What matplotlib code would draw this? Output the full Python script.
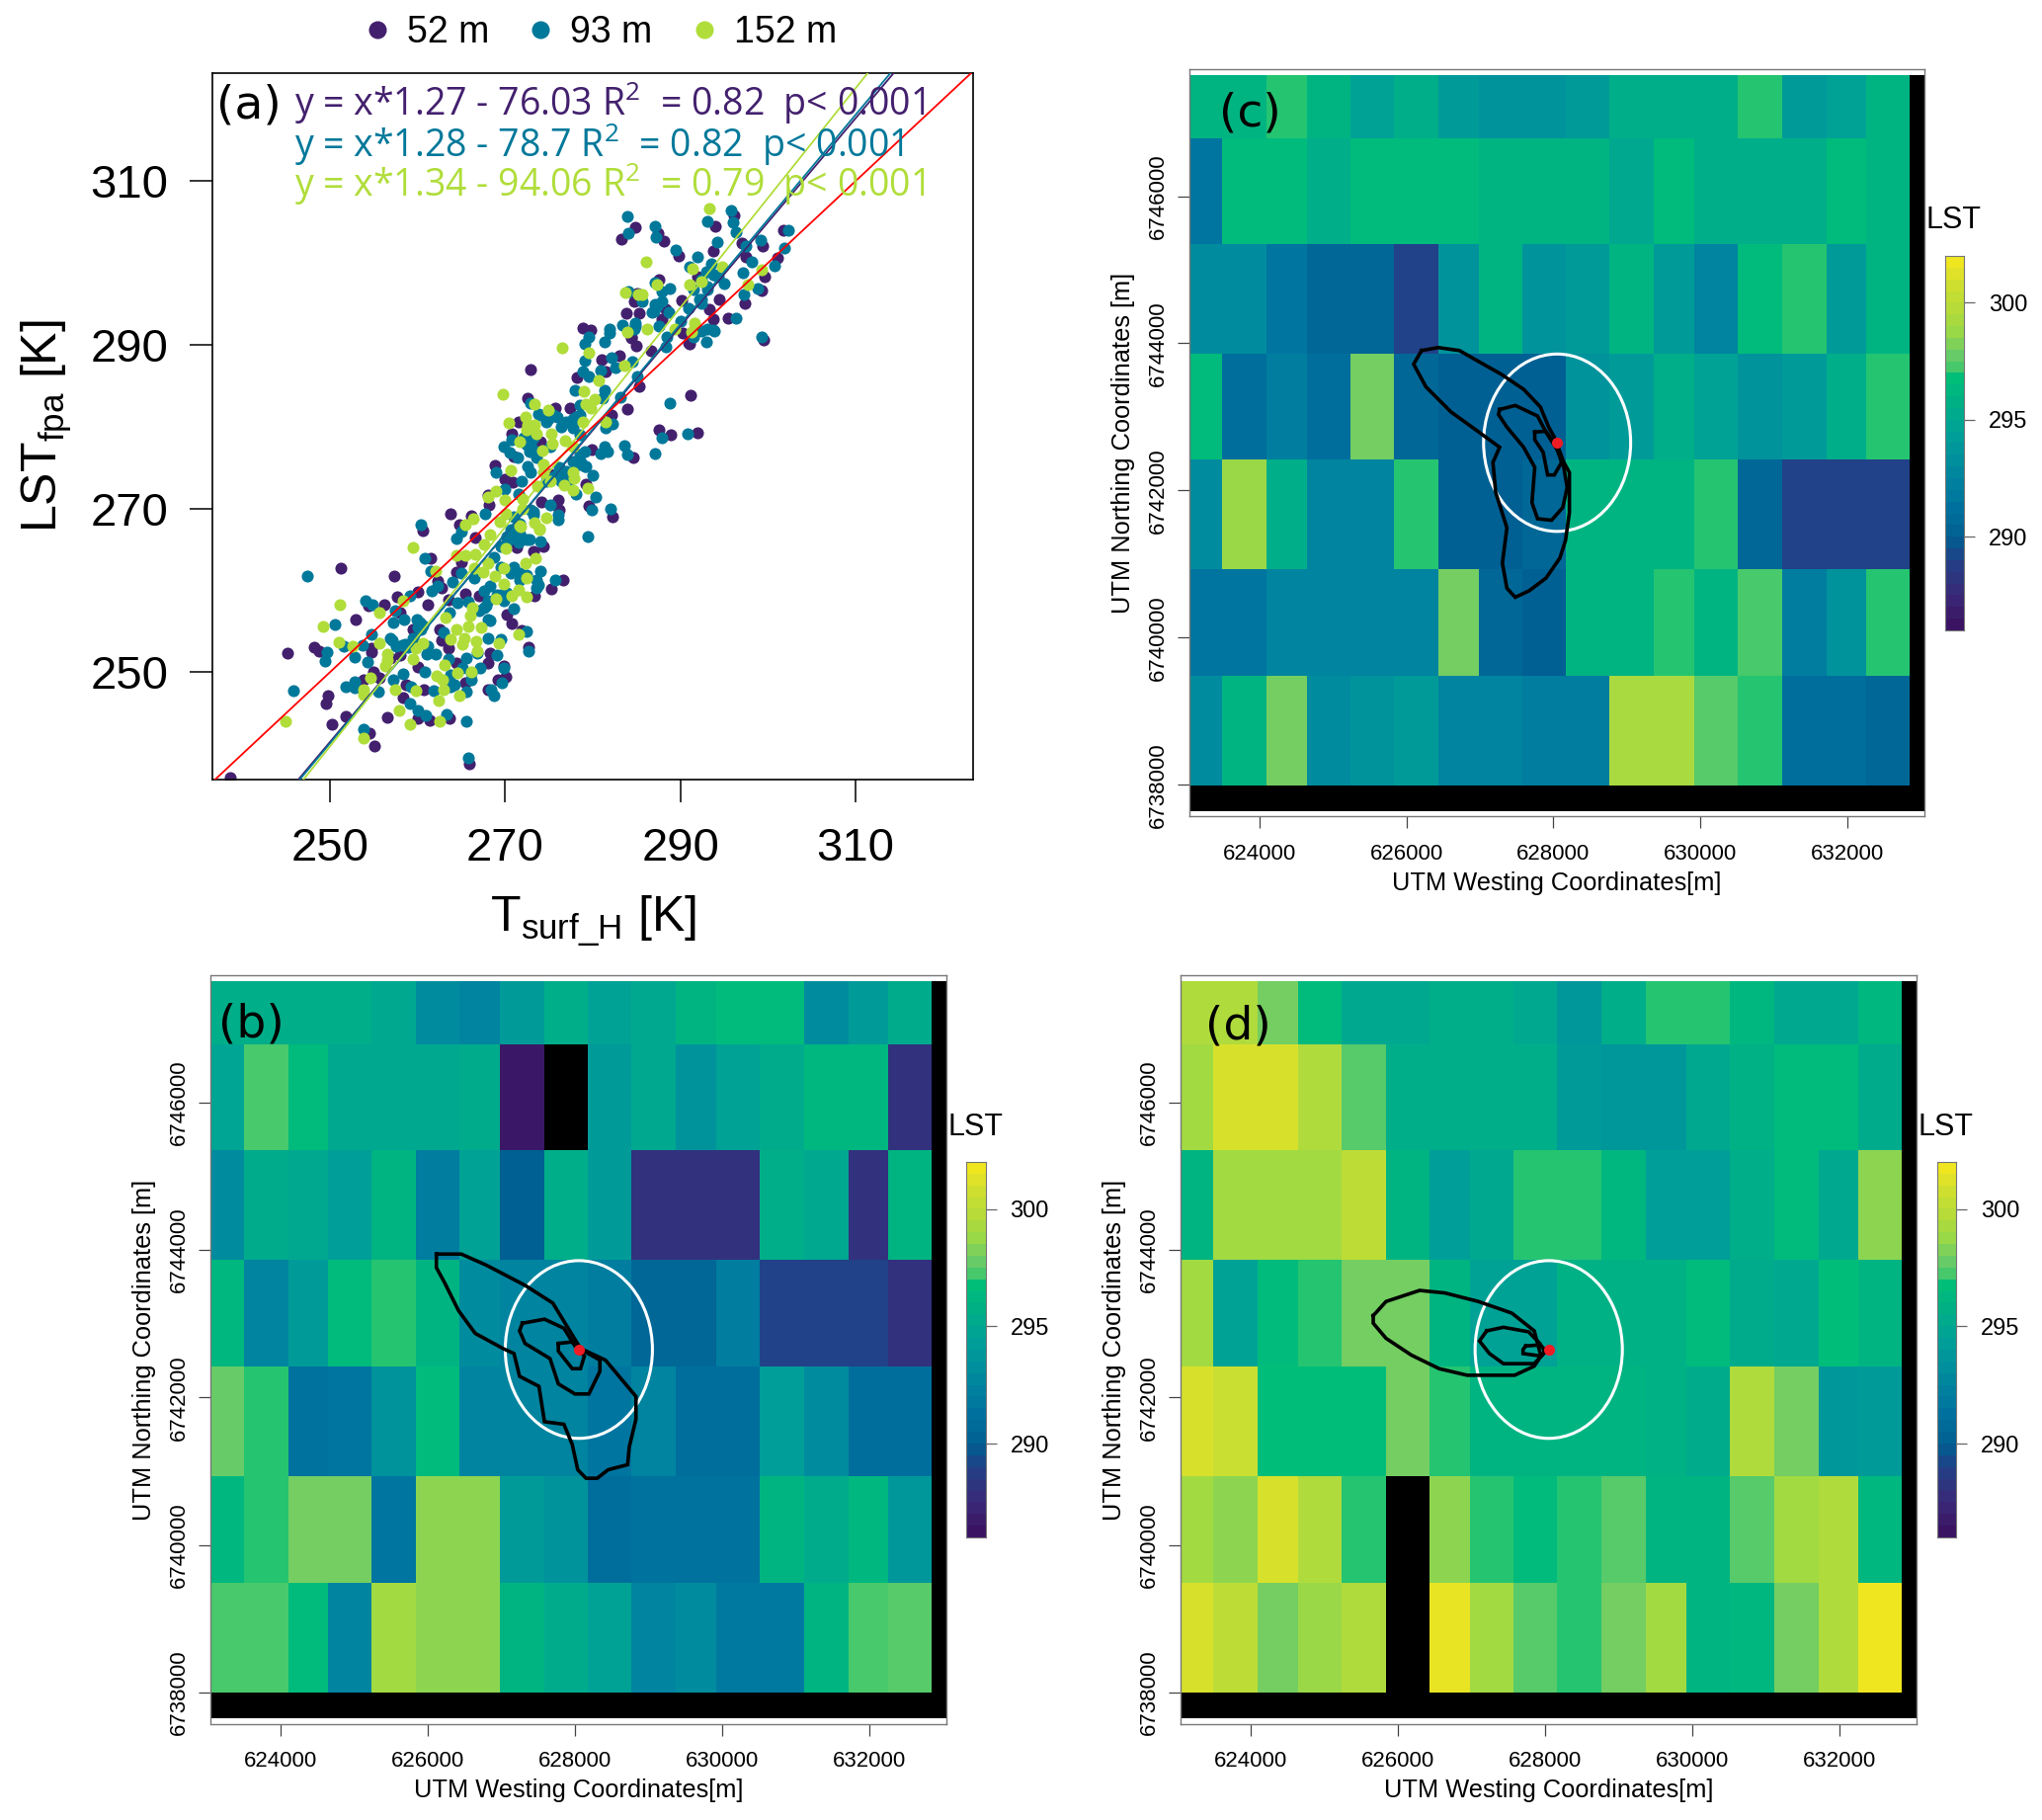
import numpy as np
import matplotlib
matplotlib.use('Agg')
import matplotlib.pyplot as plt
from matplotlib.colors import LinearSegmentedColormap
from matplotlib.lines import Line2D
from matplotlib.patches import Ellipse

plt.rcParams['font.family'] = ['Liberation Sans', 'DejaVu Sans']
plt.rcParams['mathtext.fontset'] = 'custom'
plt.rcParams['mathtext.rm'] = 'Liberation Sans'
plt.rcParams['mathtext.default'] = 'regular'

W, H = 2067, 1842

# panel a, T_surf_H vs LST_fpa
x52 = [245.2,248.2,248.8,251.2,257.3,253.0,256.2,254.4,257.7,260.0,261.2,249.8,249.6,251.8,250.2,256.5,255.1,254.5,265.9,272.7,
       270.8,276.6,275.3,260.6,261.5,254.7,254.7,258.0,259.5,262.5,262.7,263.5,258.0,256.9,260.1,255.0,253.8,255.7,258.7,258.3,
       260.7,260.1,261.4,263.6,265.5,264.4,268.0,268.3,269.8,270.1,269.2,268.1,271.9,270.2,273.4,265.5,267.0,263.5,262.7,262.3,
       264.4,265.0,266.6,271.3,273.2,274.4,238.6,
       263.8,264.8,266.1,268.2,268.0,268.8,270.0,270.9,272.9,272.6,271.5,270.7,271.0,274.0,275.7,277.4,278.2,281.0,283.0,281.5,
       285.0,284.4,286.6,285.3,283.9,282.1,279.9,278.5,284.6,287.5,288.9,291.9,291.2,282.3,279.6,276.2,276.0,274.1,279.2,275.1,291.0,
       284.8,283.3,288.1,287.4,289.8,294.0,296.1,293.7,299.4,297.0,297.5,301.8,301.1,287.5,285.1,284.7,283.8,285.3,290.2,292.0,
       294.4,293.3,293.7,295.4,297.4,299.3,299.6,290.9,299.5,279.8,278.9,287.9,290.3,284.4,288.3]
y52 = [252.4,253.1,252.6,262.7,261.8,256.5,258.2,258.1,259.2,259.8,258.2,247.1,246.2,244.6,243.7,244.5,241.0,242.6,238.8,253.1,
       256.0,261.3,260.2,267.3,263.9,252.9,252.5,257.3,255.3,255.3,253.9,252.9,252.1,251.7,250.6,250.1,249.1,249.3,248.5,246.9,
       247.9,244.4,244.2,244.4,248.7,251.1,251.1,252.4,250.8,249.5,249.1,247.9,255.1,257.1,259.4,259.6,259.3,258.9,260.3,261.1,
       262.3,263.5,266.5,265.3,264.8,265.4,237.1,
       269.4,268.0,269.1,270.4,271.7,275.3,273.6,273.2,287.0,283.5,280.6,279.1,276.4,278.2,282.3,282.3,286.0,288.2,288.7,286.7,
       289.9,290.9,289.3,284.9,282.2,281.4,277.2,275.8,276.2,279.6,279.0,279.2,283.8,269.0,270.3,269.8,271.0,270.8,273.0,274.2,290.1,
       304.3,302.9,302.7,303.6,300.9,304.5,305.8,301.4,302.0,302.4,300.7,304.0,300.6,298.0,296.3,295.3,293.9,293.9,295.4,298.3,
       295.5,294.3,293.1,293.3,295.1,296.6,298.3,290.2,290.6,291.8,292.1,293.1,291.4,290.8,294.3]

x93 = [247.4,254.1,254.9,259.1,261.6,250.6,257.4,257.2,258.5,249.7,249.4,251.6,252.8,253.7,254.8,254.3,245.8,251.8,252.8,252.8,
       255.5,257.2,258.4,257.1,258.2,259.5,260.3,260.1,260.8,260.4,261.5,262.3,264.0,265.0,266.5,264.4,265.0,263.0,263.6,264.6,
       265.8,267.6,268.3,268.0,268.1,269.5,272.4,272.7,269.1,266.8,265.6,263.5,262.1,261.1,261.2,260.8,267.2,266.1,269.8,269.6,
       268.4,268.7,265.6,263.8,261.8,259.1,259.3,260.0,260.9,263.3,265.6,253.9,265.8,267.6,269.5,271.0,273.8,274.0,275.7,271.7,
       270.6,269.5,268.3,271.0,270.2,272.5,274.0,279.4,268.7,
       267.7,268.9,269.9,270.7,271.4,270.5,272.6,272.9,271.9,270.0,271.6,272.9,273.8,275.9,274.7,276.4,278.1,277.7,272.9,273.6,
       275.1,272.1,278.0,279.1,279.1,279.6,278.9,279.6,280.9,281.4,281.1,282.1,282.6,284.5,281.4,285.1,283.2,288.3,293.0,291.5,
       288.8,287.9,290.8,287.1,283.6,284.0,281.7,281.3,280.9,282.2,281.5,279.1,278.7,279.1,280.0,276.4,277.2,278.1,275.9,274.7,
       280.3,279.9,282.0,275.1,276.05,276.05,273.2,271.0,278.5,
       284.0,284.1,287.1,287.2,289.5,293.1,295.8,296.0,296.3,294.2,292.0,302.3,301.9,300.7,299.2,298.2,297.5,297.1,297.3,298.8,
       293.5,293.9,293.1,295.0,291.1,291.5,292.2,290.9,292.4,288.8,287.9,287.1,284.1,285.6,287.9,287.1,286.8,288.7,284.9,284.7,
       283.4,281.9,287.5,290.0,288.4,296.3,293.7,292.4,299.3,
       # the blobs where teal dots pile up
       259.9,260.6,260.4,256.9,257.6,258.6,258.9,270.2,269.8,269.1,271.7,271.0,272.5,267.8,267.0,268.0,273.6,273.6,
       270.2,269.5,271.7,272.8,271.5,263.8,263.4,264.2,265.1,266.1,
       277.7,277.0,278.5,278.5,272.8,273.2,272.5,273.6,274.9,275.5,274.0,278.5,279.2,278.5,277.7,277.0,276.2,275.5,
       270.6,271.3,272.9,273.2,271.7,
       293.7,294.3,293.0,292.4,293.9,293.1,284.9,281.9,287.0,287.3,292.4,293.1]
y93 = [261.7,258.8,258.3,259.4,259.9,255.8,257.5,256.1,256.4,252.5,251.4,253.2,251.9,253.3,254.6,251.2,247.8,248.2,248.8,248.1,
       247.6,249.1,249.8,253.9,253.3,254.1,256.1,255.5,263.9,268.0,262.4,260.6,261.0,262.1,261.5,266.4,267.2,254.9,257.3,258.5,
       258.6,257.9,256.3,256.4,254.2,254.0,255.0,252.6,252.1,252.3,251.7,251.6,252.2,252.2,253.2,250.1,250.5,249.1,250.5,248.7,
       247.9,247.2,247.6,248.3,247.7,246.2,248.3,245.3,244.8,244.9,244.0,243.0,239.6,259.9,259.5,257.8,260.7,262.4,261.3,262.1,
       262.1,262.9,260.5,266.6,265.8,266.2,266.0,266.6,264.1,
       269.4,274.4,277.6,278.4,276.2,276.8,275.2,274.4,273.3,272.4,271.8,282.9,281.6,281.2,280.6,280.0,281.2,279.8,277.8,277.0,
       277.6,278.6,284.5,288.1,290.1,290.9,286.7,286.1,286.9,284.5,283.5,288.4,287.2,288.0,290.3,286.1,283.6,289.8,290.3,290.9,
       282.9,278.6,279.1,276.7,277.7,276.6,277.0,277.6,276.7,280.3,279.8,277.0,275.6,275.2,274.1,273.4,273.4,271.8,274.2,273.4,
       271.4,269.8,270.0,270.4,269.2,268.6,269.6,269.0,279.0,
       305.7,303.6,304.5,303.2,301.6,305.1,306.4,305.0,303.8,302.6,300.7,304.0,301.8,299.7,302.8,300.1,302.0,298.8,296.1,296.9,
       299.9,298.5,297.1,297.5,299.5,296.7,295.5,294.5,295.1,296.9,296.5,297.6,296.5,295.3,295.3,294.9,294.0,294.0,292.7,291.9,
       292.4,291.9,292.3,292.9,290.9,293.2,291.8,291.7,290.9,
       256.5,255.7,255.3,254.1,253.2,253.4,253.1,259.7,258.7,259.5,261.3,262.9,261.9,258.1,257.5,258.7,260.3,261.3,
       266.6,265.4,267.0,266.2,265.8,249.7,248.9,248.5,250.5,249.9,
       281.0,280.6,281.4,282.6,277.0,278.6,277.8,276.2,281.0,281.4,281.4,276.6,275.2,275.4,275.8,274.6,275.0,273.8,
       267.4,267.0,269.8,269.2,268.2,
       298.5,298.3,298.9,297.9,291.7,291.9,292.3,291.5,294.1,294.7,295.5,296.7]

x152 = [259.5,262.1,251.1,255.6,249.2,251.0,252.6,255.7,256.5,256.5,256.3,259.5,258.4,254.6,253.9,253.9,244.9,253.8,257.9,259.2,
        262.5,262.4,264.8,259.8,257.5,263.0,262.2,262.9,264.6,266.1,263.1,266.8,265.1,265.3,263.8,266.7,264.4,265.8,267.3,269.3,
        271.5,260.6,259.8,263.2,266.0,266.2,268.9,270.7,271.5,272.5,269.8,272.5,268.8,269.8,272.3,273.5,267.5,268.1,266.5,265.5,
        266.6,264.4,267.6,268.3,270.1,271.8,273.9,
        269.7,276.5,279.6,283.6,280.7,279.0,280.2,279.2,279.8,273.4,274.9,272.3,270.4,272.6,273.4,272.4,273.6,275.3,278.9,281.5,
        271.7,276.8,275.4,277.8,274.2,274.4,270.6,274.4,277.8,277.9,276.7,277.7,279.4,275.1,273.7,269.0,268.1,270.0,272.0,272.0,
        270.1,266.4,265.5,269.4,271.7,273.4,273.9,274.7,
        293.3,286.1,283.7,285.2,285.6,287.3,291.4,294.8,291.1,292.4,299.3,297.7,291.6,286.2,283.9,289.4,291.3]
y152 = [265.3,262.4,258.2,257.3,255.6,253.7,253.2,253.6,252.2,251.5,250.8,251.6,258.8,249.3,247.9,247.3,244.0,242.0,245.4,243.6,
        244.0,246.5,247.2,247.7,247.9,247.9,249.6,249.1,249.9,250.0,250.9,252.6,253.4,254.1,254.0,253.8,255.2,255.6,255.5,253.5,
        254.6,253.6,253.0,256.7,256.9,257.9,259.0,259.3,260.1,259.2,260.8,261.5,261.8,262.7,263.3,263.9,262.2,263.3,262.7,264.3,
        264.4,264.3,265.6,266.8,265.1,267.8,267.5,
        283.9,289.6,289.0,287.4,285.6,284.3,283.3,282.7,282.3,282.8,282.0,281.2,280.4,280.2,280.2,279.6,279.1,279.1,280.6,280.6,
        278.2,278.3,277.9,277.6,277.1,275.4,274.7,274.4,274.4,273.7,272.8,272.3,272.5,273.4,272.7,272.1,271.4,271.1,271.2,270.0,
        269.3,268.7,268.0,268.4,267.9,268.3,267.4,268.9,
        306.7,300.1,296.4,296.1,296.1,297.3,299.3,299.5,297.4,297.7,299.2,297.3,292.7,291.9,291.6,291.9,291.6]

heights = ['52 m', '93 m', '152 m']
slopes = [1.27, 1.28, 1.34]
intercepts = [-76.03, -78.7, -94.06]
eq_text = ['y = x*1.27 - 76.03 R$^2$  = 0.82  p< 0.001',
           'y = x*1.28 - 78.7 R$^2$  = 0.82  p< 0.001',
           'y = x*1.34 - 94.06 R$^2$  = 0.79  p< 0.001']
col52, col93, col152 = '#43206e', '#00789a', '#b0dd3a'

# LST raster, same cell grid for the three maps
x_edges = [623050,623499,624099,624645,625237,625837,626429,626983,627575,628167,628766,629366,629913,630512,631112,631712,632251,632850,633045]
y_edges = [6747641,6746787,6745351,6743860,6742417,6740927,6739484,6737993,6737644]
nan = np.nan

lst_b = [
    [295.5,295.5,295.5,295.5,295.0,293.0,292.5,294.0,295.5,294.5,295.0,296.0,296.7,296.7,293.0,294.0,295.3],
    [294.8,297.3,296.5,295.0,295.0,295.0,295.3,286.5,nan,294.0,295.0,293.5,294.5,295.3,296.3,296.3,288.0],
    [293.0,295.3,295.0,294.3,296.0,292.0,294.5,290.0,295.7,294.0,288.0,288.0,288.0,295.7,295.0,288.0,296.0],
    [296.3,292.5,294.0,296.5,297.0,296.0,293.0,292.5,292.5,292.0,290.5,290.5,292.0,289.0,289.0,289.0,288.0],
    [297.8,297.0,291.3,291.5,293.5,296.5,292.5,292.5,292.5,291.5,292.5,291.0,291.0,294.3,293.0,291.0,291.0],
    [296.3,297.2,298.0,298.0,291.5,298.7,298.7,294.0,293.5,291.0,291.3,291.3,291.3,296.0,295.3,296.3,293.8],
    [297.3,297.3,296.5,292.5,299.2,298.7,298.7,296.0,295.3,294.5,292.5,293.0,291.8,291.8,296.0,297.3,297.6]]
lst_c = [
    [296.0,296.0,297.0,296.0,294.5,295.5,294.0,293.5,293.5,294.0,295.5,295.5,295.5,297.0,294.0,294.5,296.0],
    [291.5,296.5,296.5,295.5,296.5,296.5,296.5,296.0,296.0,296.0,295.0,296.5,295.5,295.5,295.5,296.5,296.0],
    [293.0,293.0,291.5,290.5,290.5,289.0,293.5,296.0,293.5,294.0,296.0,294.0,292.5,296.5,297.0,294.0,296.0],
    [296.5,291.0,292.0,291.0,298.0,290.5,290.0,290.0,290.0,293.5,294.0,295.5,294.5,293.5,294.0,295.5,297.0],
    [293.0,298.8,295.5,292.5,292.5,297.0,290.0,290.0,290.5,296.0,296.0,296.0,297.0,290.5,289.0,289.0,289.0],
    [291.5,291.5,292.5,292.5,292.5,292.5,298.0,290.5,290.2,296.0,296.0,297.2,296.0,297.3,292.0,293.5,297.0],
    [293.0,296.0,298.0,293.0,293.5,294.0,292.5,292.5,292.0,292.0,299.3,299.3,297.5,297.0,291.0,291.0,290.5]]
lst_d = [
    [299.5,299.5,298.0,296.5,295.0,295.0,295.5,295.5,295.0,293.8,295.5,297.0,297.0,296.3,295.0,295.0,296.3],
    [299.0,301.0,301.0,299.5,297.5,295.5,295.5,295.5,295.5,294.0,293.8,293.8,295.0,295.8,296.5,296.5,295.3],
    [296.0,299.0,299.0,299.0,300.0,296.0,294.3,295.0,297.2,297.2,296.3,294.3,294.3,295.5,296.5,295.2,298.7],
    [299.0,294.5,296.5,297.2,298.0,298.0,296.0,294.5,294.5,295.8,295.8,295.8,296.5,295.3,295.0,296.8,296.0],
    [301.0,300.5,296.8,296.8,296.8,298.0,297.0,296.0,296.0,296.0,296.0,295.8,295.3,299.7,298.0,293.8,294.0],
    [299.0,298.5,301.0,299.5,297.0,nan,298.5,297.0,296.5,297.0,297.5,296.2,296.2,297.5,299.2,299.7,296.4],
    [301.0,300.0,298.0,298.8,299.7,nan,301.7,299.2,297.5,297.2,298.0,299.0,296.2,296.4,298.2,299.7,301.8]]

# tower position and footprint contours, metres east/north of the tower
tower_x, tower_y = 628050, 6742650
b_outer = [(-1936,1294),(-1597,1294),(-1258,1144),(-731,870),(-354,630),(-166,322),(23,14),(362,-144),(776,-637),(776,-945),
           (685,-1322),(663,-1562),(399,-1630),(249,-1746),(98,-1746),(-15,-1630),(-90,-1288),(-203,-1014),(-467,-979),(-542,-500),
           (-806,-363),(-881,-55),(-1032,14),(-1409,219),(-1635,527),(-1823,904),(-1936,1110),(-1936,1294)]
b_mid = [(-768,356),(-467,411),(-203,288),(-53,48),(286,-144),(286,-295),(136,-603),(-53,-603),(-279,-466),(-392,-123),(-731,82),(-806,253),(-768,356)]
b_inner = [(-279,82),(-90,103),(75,-89),(23,-260),(-90,-260),(-279,-21),(-279,82)]
c_outer = [(-1844,1252),(-1617,1293),(-1328,1252),(-1063,1101),(-759,930),(-455,725),(-228,486),(-114,212),(-38,75),(91,-267),
           (167,-404),(167,-951),(114,-1327),(38,-1566),(-152,-1840),(-380,-2011),(-569,-2100),(-683,-1977),(-744,-1635),(-683,-1156),
           (-835,-677),(-873,-267),(-782,-62),(-1063,144),(-1442,417),(-1784,759),(-1951,1067),(-1844,1252)]
c_mid = [(-782,451),(-569,506),(-266,363),(-152,144),(0,-96),(91,-335),(137,-609),(76,-882),(-76,-1053),(-266,-1033),(-342,-814),(-304,-335),(-455,-62),(-683,212),(-797,383),(-782,451)]
c_inner = [(-304,144),(-152,157),(0,-62),(61,-267),(-38,-438),(-129,-438),(-190,-130),(-304,41),(-304,144)]
d_outer = [(-2383,459),(-2209,651),(-1753,801),(-1412,767),(-956,651),(-501,493),(-197,253),(-106,-89),(-197,-226),(-463,-349),
           (-1108,-349),(-1488,-260),(-1867,-75),(-2209,151),(-2383,356),(-2383,459)]
d_mid = [(-842,253),(-615,301),(-273,240),(-121,82),(-46,-34),(-197,-192),(-615,-192),(-805,-55),(-941,116),(-842,253)]
d_inner = [(-311,48),(-121,62),(-46,-7),(-106,-89),(-349,-55),(-349,0),(-311,48)]

cb_ticks = [290, 295, 300]
lst_stops = [(286,'#3a0f5f'),(287.5,'#3b2a78'),(289,'#233f87'),(290,'#005f92'),(291.5,'#0074a0'),(293,'#008a9e'),(294.5,'#00a098'),
             (295,'#00a692'),(296,'#00b284'),(297,'#00bf78'),(297.3,'#40c86c'),(298,'#6bcc68'),(299,'#9cd945'),(300,'#b8dc38'),(301,'#cfe030'),(302,'#f0e620')]
cmap = LinearSegmentedColormap.from_list('lst', [((v-286)/16., c) for v, c in lst_stops], N=64)
cmap.set_bad('black')


def axes_px(fig, left, right, top, bottom):
    return fig.add_axes([left/W, 1-bottom/H, (right-left)/W, (bottom-top)/H])


def draw_map(fig, box, cbox, lst, contours, letter, letter_pos, lst_pos):
    ax = axes_px(fig, *box)
    vals = np.full((8, 18), nan)
    vals[:7, :17] = np.array(lst)
    ax.pcolormesh(x_edges, y_edges, np.ma.masked_invalid(vals), cmap=cmap, vmin=286, vmax=302, shading='flat', rasterized=True)
    ax.set_xlim(623050, 633045)
    ax.set_ylim(6737570, 6747725)
    for c in contours:
        ax.plot([tower_x+p[0] for p in c], [tower_y+p[1] for p in c], color='black', lw=2.6, solid_joinstyle='miter')
    ax.add_patch(Ellipse((tower_x, tower_y), 2000, 2410, fc='none', ec='white', lw=2.2))
    ax.plot([tower_x], [tower_y], 'o', color='#ee1c25', ms=8, mew=0)
    ax.set_xticks([624000, 626000, 628000, 630000, 632000])
    ax.set_yticks([6738000, 6740000, 6742000, 6744000, 6746000])
    ax.ticklabel_format(useOffset=False, style='plain')
    ax.tick_params(length=8.5, width=0.9, color='#444444', labelsize=16)
    ax.tick_params(axis='x', pad=11)
    ax.tick_params(axis='y', pad=7)
    for t in ax.get_yticklabels():
        t.set_rotation(90)
        t.set_va('center')
    ax.set_xlabel('UTM Westing Coordinates[m]', fontsize=18.3, labelpad=5)
    ax.set_ylabel('UTM Northing Coordinates [m]', fontsize=18.3, labelpad=9)
    for s in ax.spines.values():
        s.set_color('#777777')
        s.set_linewidth(1.0)
    fig.text(letter_pos[0]/W, 1-letter_pos[1]/H, letter, family='DejaVu Sans', fontsize=34, va='center')
    fig.text(lst_pos[0]/W, 1-lst_pos[1]/H, 'LST', fontsize=22, va='center')

    cax = axes_px(fig, *cbox)
    cb = np.linspace(302, 286, 33).reshape(-1, 1)
    cax.imshow((cb[:-1]+cb[1:])/2, cmap=cmap, vmin=286, vmax=302, aspect='auto', extent=[0, 1, 286, 302], interpolation='nearest')
    cax.set_xticks([])
    cax.yaxis.tick_right()
    cax.set_yticks(cb_ticks)
    cax.tick_params(length=8, width=0.9, color='#666666', labelsize=17, pad=10)
    for s in cax.spines.values():
        s.set_color('#777777')
        s.set_linewidth(0.8)


fig = plt.figure(figsize=(W/100., H/100.), dpi=100)

# panel a
ax = axes_px(fig, 215, 985, 73.8, 789)
for xs, ys, col in [(x52, y52, col52), (x93, y93, col93), (x152, y152, col152)]:
    ax.scatter(xs, ys, s=76, color=col, linewidths=0, zorder=2)
ax.set_xlim(236.6, 323.4)
ax.set_ylim(236.9, 323.2)
xl = np.array([236.6, 323.4])
for m, b, col in zip(slopes, intercepts, [col52, col93, col152]):
    ax.plot(xl, m*xl+b, color=col, lw=1.3, zorder=3)
ax.plot(xl, xl, color='red', lw=1.3, zorder=3)
ax.set_xticks([250, 270, 290, 310])
ax.set_yticks([250, 270, 290, 310])
ax.tick_params(length=16.5, width=1.1, labelsize=34)
ax.tick_params(axis='x', pad=18)
ax.tick_params(axis='y', pad=15.5)
ax.set_xlabel(r'T$_{surf\_H}$ [K]', fontsize=36, labelpad=17)
ax.set_ylabel(r'LST$_{fpa}$ [K]', fontsize=36, labelpad=12)
for s in ax.spines.values():
    s.set_linewidth(1.2)
for txt, col, py in zip(eq_text, [col52, col93, col152], [104, 146, 186]):
    fig.text(298/W, 1-py/H, txt, color=col, family=['Open Sans', 'DejaVu Sans'], fontsize=27, va='center')
fig.text(219/W, 1-107/H, '(a)', family='DejaVu Sans', fontsize=34, va='center')

handles = [Line2D([], [], marker='o', ls='', color=c, ms=13, mew=0) for c in [col52, col93, col152]]
fig.legend(handles, heights, ncol=3, frameon=False, fontsize=27, loc='center', bbox_to_anchor=(607/W, 1-33/H),
           handlelength=0.8, handletextpad=0.4, columnspacing=1.0)

draw_map(fig, (213.5, 958, 987, 1745), (978, 997.5, 1176.4, 1556), lst_b, [b_outer, b_mid, b_inner], '(b)', (221, 1037), (960, 1141))
draw_map(fig, (1204, 1948, 70, 826.5), (1968.6, 1987.8, 259, 638), lst_c, [c_outer, c_mid, c_inner], '(c)', (1234, 115), (1950, 223))
draw_map(fig, (1195, 1940, 987, 1745), (1960.7, 1980, 1176.4, 1556), lst_d, [d_outer, d_mid, d_inner], '(d)', (1220, 1039), (1942, 1141))

fig.savefig('out.png', dpi=100)
